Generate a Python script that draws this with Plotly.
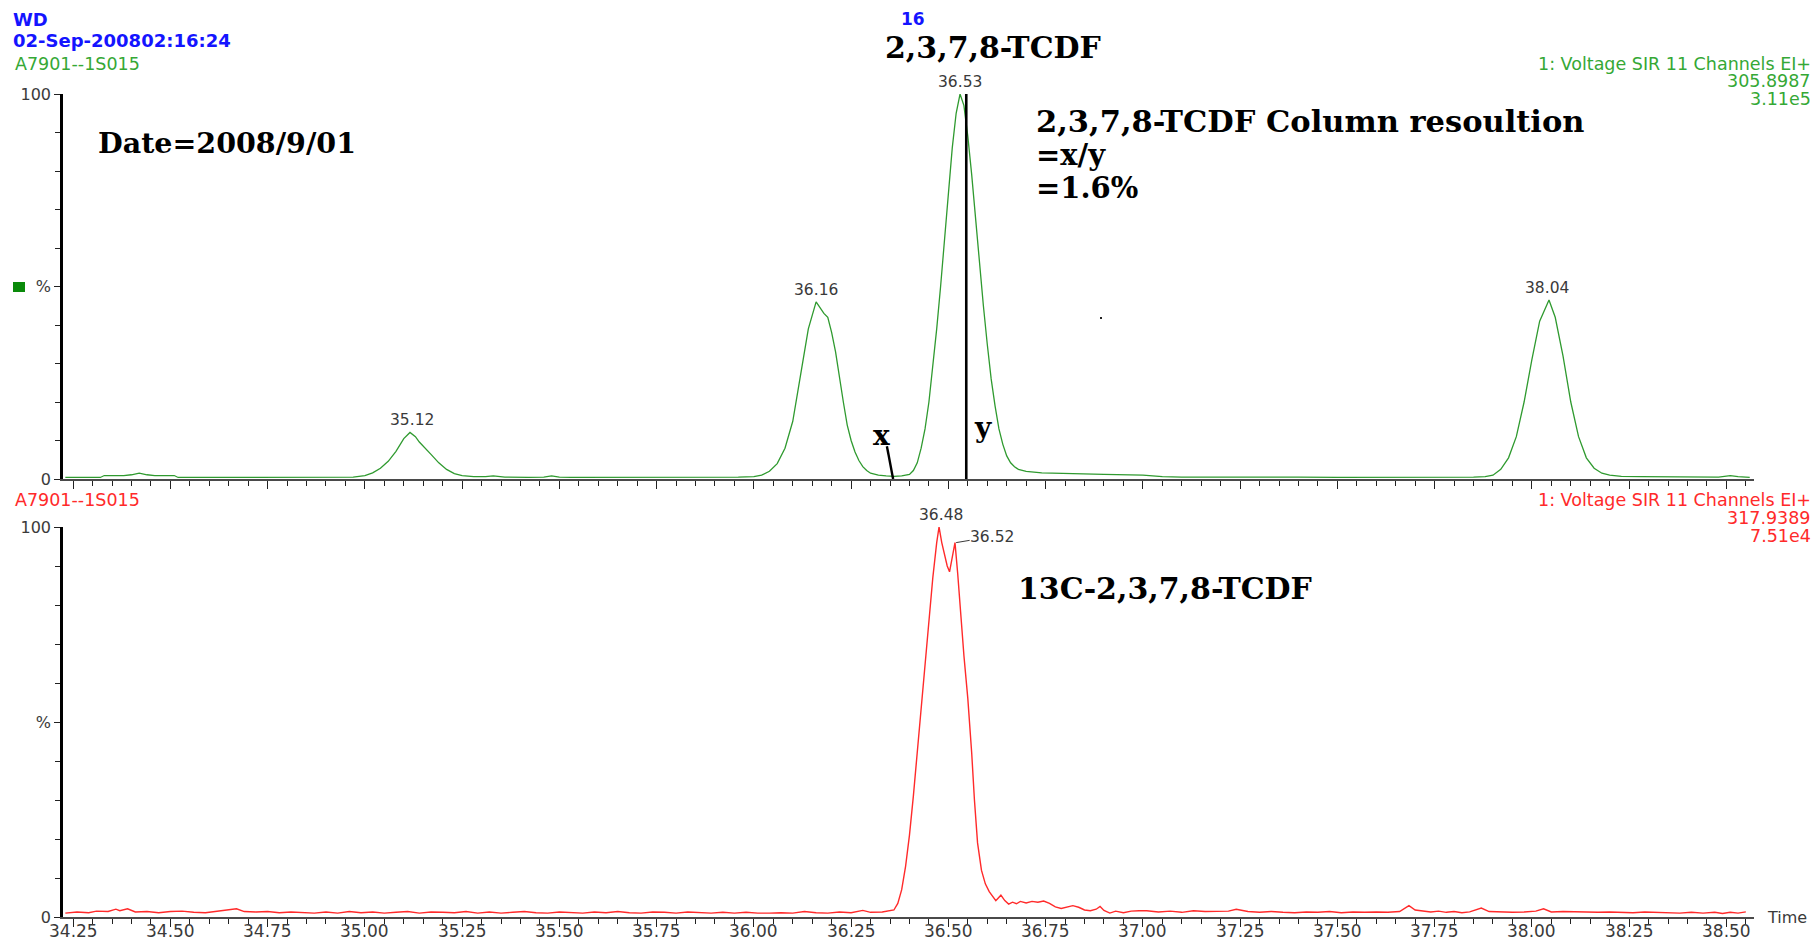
import plotly.graph_objects as go

# ---------------- data ----------------
# Top trace: 2,3,7,8-TCDF channel (m/z 305.8987), relative intensity %
green_time = [
    34.23, 34.27, 34.30, 34.32, 34.33, 34.36, 34.38, 34.40, 34.42, 34.44, 34.46, 34.49, 34.51, 34.52, 34.58, 34.65, 34.72, 34.80, 34.88, 34.94, 34.97,
    35.00, 35.02, 35.04, 35.06, 35.08, 35.10, 35.116, 35.13, 35.14, 35.15, 35.17, 35.19, 35.21, 35.23, 35.25, 35.28,
    35.31, 35.33, 35.36, 35.42, 35.46, 35.48, 35.50, 35.53, 35.60, 35.70, 35.80, 35.90, 35.96,
    36.00, 36.02, 36.04, 36.06, 36.08, 36.10, 36.12, 36.14, 36.16, 36.17, 36.18, 36.19, 36.20, 36.21, 36.22, 36.23, 36.24, 36.25,
    36.26, 36.27, 36.28, 36.29, 36.30, 36.32, 36.34, 36.36, 36.38, 36.40, 36.41,
    36.42, 36.43, 36.44, 36.45, 36.46, 36.47, 36.48, 36.49, 36.50, 36.51, 36.52, 36.53, 36.54, 36.55, 36.56, 36.57, 36.58, 36.59, 36.60, 36.61, 36.62, 36.63, 36.64, 36.65, 36.66, 36.67, 36.68, 36.70,
    36.74, 36.80, 36.90, 37.00, 37.05, 37.10, 37.20, 37.30, 37.40, 37.50, 37.60, 37.70, 37.80, 37.85,
    37.88, 37.90, 37.92, 37.94, 37.96, 37.98, 38.00, 38.02, 38.044, 38.06, 38.08, 38.10, 38.12, 38.14, 38.16, 38.18, 38.20,
    38.23, 38.28, 38.35, 38.42, 38.48, 38.51, 38.53, 38.56,
]
green_pct = [
    0.4, 0.4, 0.4, 0.4, 0.9, 0.9, 0.9, 1.1, 1.5, 1.1, 0.9, 0.9, 0.9, 0.4, 0.4, 0.4, 0.4, 0.4, 0.4, 0.4, 0.5,
    0.9, 1.6, 2.8, 4.6, 7.2, 10.5, 12.1, 11.0, 9.6, 8.6, 6.4, 4.2, 2.5, 1.4, 0.9, 0.6,
    0.6, 0.8, 0.5, 0.4, 0.5, 0.8, 0.5, 0.4, 0.4, 0.4, 0.4, 0.5, 0.5,
    0.6, 1.0, 2.0, 4.0, 8.0, 15.0, 27.0, 39.0, 46.0, 44.5, 43.0, 42.0, 38.0, 33.0, 26.0, 20.0, 14.0, 10.0,
    7.0, 4.8, 3.2, 2.2, 1.5, 1.0, 0.8, 0.7, 0.8, 1.2, 2.2,
    4.2, 8.0, 13.0, 20.0, 29.0, 39.0, 50.0, 62.0, 74.0, 86.0, 95.0, 100.0, 97.0, 89.0, 79.0, 67.0, 56.0, 45.0, 35.0, 26.0, 19.0, 13.0, 9.0, 6.0, 4.2, 3.2, 2.5, 2.0,
    1.6, 1.4, 1.2, 1.0, 0.6, 0.5, 0.5, 0.6, 0.5, 0.4, 0.4, 0.4, 0.4, 0.5,
    0.6, 1.0, 2.5, 5.5, 11.0, 20.0, 31.0, 41.0, 46.5, 42.0, 32.0, 20.0, 11.0, 5.5, 2.8, 1.5, 1.0,
    0.7, 0.6, 0.6, 0.5, 0.5, 0.9, 0.6, 0.4,
]

# Bottom trace: 13C-2,3,7,8-TCDF channel (m/z 317.9389), relative intensity %
red_time = [
    34.23, 34.26, 34.29, 34.31, 34.34, 34.36, 34.37, 34.39, 34.41, 34.44,
    34.47, 34.50, 34.53, 34.56, 34.59, 34.62, 34.65, 34.67, 34.69, 34.72,
    34.75, 34.78, 34.81, 34.84, 34.87, 34.90, 34.93, 34.96, 34.99, 35.02,
    35.05, 35.08, 35.11, 35.14, 35.17, 35.20, 35.23, 35.26, 35.29, 35.32,
    35.35, 35.38, 35.41, 35.44, 35.47, 35.50, 35.53, 35.56, 35.59, 35.62,
    35.65, 35.68, 35.71, 35.74, 35.77, 35.80, 35.83, 35.86, 35.89, 35.92,
    35.95, 35.98, 36.01, 36.04, 36.07, 36.10, 36.13, 36.16, 36.19, 36.22,
    36.25, 36.28, 36.30, 36.33, 36.35,
    36.36, 36.37, 36.38, 36.39, 36.40, 36.41, 36.42, 36.43, 36.44, 36.45,
    36.46, 36.47, 36.476, 36.483, 36.49, 36.497, 36.503, 36.51, 36.517, 36.524,
    36.53, 36.54, 36.55, 36.555, 36.56, 36.567, 36.575, 36.585, 36.595, 36.605,
    36.615, 36.622, 36.635, 36.645, 36.655, 36.665, 36.675, 36.685, 36.70, 36.715,
    36.73, 36.745, 36.76, 36.775, 36.79, 36.805, 36.82, 36.835, 36.85, 36.865,
    36.88, 36.89, 36.90, 36.915, 36.93, 36.95, 36.97, 36.99, 37.01, 37.04,
    37.07, 37.10, 37.13, 37.16, 37.19, 37.22, 37.24, 37.27, 37.30, 37.33,
    37.36, 37.39, 37.42, 37.45, 37.48, 37.51, 37.54, 37.57, 37.60, 37.63,
    37.66, 37.684, 37.70, 37.72, 37.74, 37.76, 37.78, 37.80, 37.82, 37.84,
    37.87, 37.89, 37.92, 37.95, 37.98, 38.01, 38.03, 38.05, 38.08, 38.11,
    38.14, 38.17, 38.20, 38.23, 38.26, 38.29, 38.32, 38.35, 38.38, 38.41,
    38.44, 38.47, 38.49, 38.51, 38.53, 38.55,
]
red_pct = [
    1.0, 1.3, 1.1, 1.5, 1.4, 2.0, 1.6, 2.1, 1.3, 1.4,
    1.1, 1.4, 1.5, 1.2, 1.1, 1.5, 1.8, 2.1, 1.4, 1.3,
    1.4, 1.1, 1.3, 1.1, 1.0, 1.3, 1.0, 1.4, 1.1, 1.3,
    1.0, 1.2, 1.4, 1.0, 1.3, 1.2, 1.1, 1.4, 1.0, 1.3,
    1.0, 1.2, 1.4, 1.1, 1.0, 1.3, 1.2, 1.0, 1.3, 1.1,
    1.4, 1.1, 1.0, 1.3, 1.2, 1.0, 1.3, 1.1, 1.0, 1.2,
    1.0, 1.2, 1.0, 1.0, 1.1, 1.0, 1.4, 1.1, 1.0, 1.3,
    1.1, 1.7, 1.2, 1.3, 1.6,
    1.8, 3.5, 7.0, 13.0, 21.0, 31.0, 42.0, 54.0, 66.0, 77.0,
    87.0, 96.0, 100.0, 96.0, 93.0, 90.0, 88.5, 92.0, 96.0, 88.0,
    80.0, 67.0, 56.0, 50.0, 42.0, 30.0, 19.0, 12.0, 8.5, 6.5,
    5.0, 4.2, 5.6, 4.2, 3.3, 3.8, 3.4, 4.0, 3.6, 4.0,
    3.8, 4.1, 3.5, 2.6, 2.2, 2.5, 2.9, 2.5, 1.8, 1.6,
    2.0, 2.7, 1.7, 1.0, 1.5, 1.1, 1.5, 1.6, 1.6, 1.3,
    1.5, 1.2, 1.6, 1.4, 1.5, 1.5, 2.0, 1.4, 1.2, 1.4,
    1.2, 1.1, 1.3, 1.2, 1.4, 1.1, 1.3, 1.2, 1.3, 1.2,
    1.4, 2.9, 1.8, 1.6, 1.3, 1.5, 1.2, 1.4, 1.1, 1.3,
    2.3, 1.4, 1.3, 1.2, 1.3, 1.5, 2.1, 1.3, 1.4, 1.3,
    1.3, 1.2, 1.3, 1.2, 1.1, 1.3, 1.2, 1.1, 1.0, 1.2,
    1.0, 1.2, 0.9, 1.2, 1.0, 1.3,
]

# labelled peak apexes (retention time, % height)
top_peak_time = [35.12, 36.16, 36.53, 38.04]
top_peak_pct = [12.1, 46.0, 100.0, 46.5]
bottom_peak_time = [36.48, 36.52]
bottom_peak_pct = [100.0, 96.0]

# resolution construction: valley x (time, %) and apex y
valley_line_time = [36.342, 36.358]
valley_line_pct = [8.5, 0.0]
apex_line_time = 36.546

x_tick_labels = ["34.25", "34.50", "34.75", "35.00", "35.25", "35.50", "35.75", "36.00",
                 "36.25", "36.50", "36.75", "37.00", "37.25", "37.50", "37.75", "38.00",
                 "38.25", "38.50"]
y_tick_values = [0, 50, 100]
y_tick_labels = ["0", "%", "100"]

# ---------------- layout helpers ----------------
W, H = 1818, 943
L, R, T, B = 63, 64, 94, 26
PW, PH = W - L - R, H - T - B

def px(x):
    return (x - L) / PW

def py(y):
    return (H - B - y) / PH

SANS = "DejaVu Sans"
SERIF = "DejaVu Serif"
GREEN_LINE = "#2f9a2f"
GREEN_TEXT = "#35a835"
RED = "#ff2a2a"
BLUE = "#1414ff"
GRAY = "#3a3a3a"

top_domain = [py(479), 1.0]
bottom_domain = [0.0, py(527)]
xrange_ = [34.224, 38.571]
x_tick_values = [float(v) for v in x_tick_labels]

fig = go.Figure()
fig.add_trace(go.Scatter(x=green_time, y=green_pct, mode="lines",
                         line=dict(color=GREEN_LINE, width=1.3),
                         xaxis="x", yaxis="y", hoverinfo="skip", showlegend=False))
fig.add_trace(go.Scatter(x=red_time, y=red_pct, mode="lines",
                         line=dict(color=RED, width=1.4),
                         xaxis="x2", yaxis="y2", hoverinfo="skip", showlegend=False))

x_common = dict(range=xrange_, showline=True, linecolor="#4a4a4a", linewidth=2,
                ticks="outside", tickvals=x_tick_values, ticktext=x_tick_labels,
                ticklen=8, tickwidth=1.3, tickcolor="#222", showticklabels=False,
                minor=dict(ticks="outside", dtick=0.05, tick0=34.25, ticklen=5,
                           tickwidth=1, tickcolor="#222"),
                showgrid=False, zeroline=False, automargin=False, fixedrange=True)
y_common = dict(range=[0, 100], showline=True, linecolor="black", linewidth=2.5,
                ticks="outside", tickvals=y_tick_values, ticktext=y_tick_labels,
                ticklen=6, tickwidth=1.3, tickcolor="#222",
                tickfont=dict(family=SANS, size=16, color=GRAY),
                minor=dict(ticks="outside", dtick=10, ticklen=5, tickwidth=1, tickcolor="#222"),
                showgrid=False, zeroline=False, automargin=False, fixedrange=True)

fig.update_layout(
    width=W, height=H, template="none",
    margin=dict(l=L, r=R, t=T, b=B),
    paper_bgcolor="white", plot_bgcolor="white",
    xaxis=dict(domain=[0, 1], anchor="y", **x_common),
    xaxis2=dict(domain=[0, 1], anchor="y2", **x_common),
    yaxis=dict(domain=top_domain, anchor="x", **y_common),
    yaxis2=dict(domain=bottom_domain, anchor="x2", **y_common),
)

def note(text, x, y, xanchor="left", size=17, color=GRAY, family=SANS, bold=False, yanchor="middle"):
    fig.add_annotation(text=f"<b>{text}</b>" if bold else text, xref="paper", yref="paper",
                       x=px(x), y=py(y), xanchor=xanchor, yanchor=yanchor, showarrow=False,
                       borderpad=0, font=dict(family=family, size=size, color=color))

# time-axis labels of the lower panel, placed on the x2 scale just under its ticks
for v, lab in zip(x_tick_values, x_tick_labels):
    fig.add_annotation(text=lab, x=v, xref="x2", y=py(931), yref="paper", showarrow=False,
                       xanchor="center", yanchor="middle", borderpad=0,
                       font=dict(family=SANS, size=17, color=GRAY))

# header texts
note("WD", 12, 19, size=18, color=BLUE, bold=True)
note("02-Sep-200802:16:24", 12, 41, size=18, color=BLUE, bold=True)
note("16", 913, 19, xanchor="center", size=17, color=BLUE, bold=True)
note("A7901--1S015", 14, 64, size=17.5, color=GREEN_TEXT)
note("1: Voltage SIR 11 Channels EI+", 1812, 64, xanchor="right", size=17.5, color=GREEN_TEXT)
note("305.8987", 1812, 81.5, xanchor="right", size=17.5, color=GREEN_TEXT)
note("3.11e5", 1812, 99, xanchor="right", size=17.5, color=GREEN_TEXT)
note("A7901--1S015", 14, 500, size=17.5, color=RED)
note("1: Voltage SIR 11 Channels EI+", 1812, 500, xanchor="right", size=17.5, color=RED)
note("317.9389", 1812, 518, xanchor="right", size=17.5, color=RED)
note("7.51e4", 1812, 536, xanchor="right", size=17.5, color=RED)
note("Time", 1766, 917, size=16, color=GRAY)

# serif commentary
note("2,3,7,8-TCDF", 993, 47.5, xanchor="center", size=30, color="black", family=SERIF, bold=True)
note("Date=2008/9/01", 97, 143.5, size=28.5, color="black", family=SERIF, bold=True)
note("2,3,7,8-TCDF Column resoultion", 1035, 121, size=30.5, color="black", family=SERIF, bold=True)
note("=x/y", 1035, 155.5, size=29, color="black", family=SERIF, bold=True)
note("=1.6%", 1035, 188, size=29, color="black", family=SERIF, bold=True)
note("13C-2,3,7,8-TCDF", 1017, 588, size=30, color="black", family=SERIF, bold=True)
note("x", 881, 436, xanchor="center", size=28, color="black", family=SERIF, bold=True)
note("y", 983, 427, xanchor="center", size=28, color="black", family=SERIF, bold=True)

# peak labels
for t, h in zip(top_peak_time, top_peak_pct):
    fig.add_annotation(text=f"{t:.2f}", x=t, y=h, xref="x", yref="y", showarrow=False,
                       xanchor="center", yanchor="bottom", yshift=2, borderpad=0,
                       font=dict(family=SANS, size=15.5, color=GRAY))
fig.add_annotation(text=f"{bottom_peak_time[0]:.2f}", x=bottom_peak_time[0], y=bottom_peak_pct[0],
                   xref="x2", yref="y2", showarrow=False, xanchor="center", yanchor="bottom",
                   yshift=2, borderpad=0, font=dict(family=SANS, size=15.5, color=GRAY))
fig.add_annotation(text=f"{bottom_peak_time[1]:.2f}", x=bottom_peak_time[1], y=bottom_peak_pct[1],
                   xref="x2", yref="y2", showarrow=True, arrowhead=0, arrowwidth=1,
                   arrowcolor=GRAY, ax=36, ay=-6, standoff=0, borderpad=0,
                   xanchor="center", yanchor="middle",
                   font=dict(family=SANS, size=15.5, color=GRAY))

# resolution construction lines
fig.add_shape(type="line", xref="x", yref="y", x0=apex_line_time, x1=apex_line_time, y0=0, y1=100,
              line=dict(color="black", width=2.6))
fig.add_shape(type="line", xref="x", yref="y", x0=valley_line_time[0], x1=valley_line_time[1],
              y0=valley_line_pct[0], y1=valley_line_pct[1], line=dict(color="black", width=2.4))

# small decorations
fig.add_shape(type="rect", xref="paper", yref="paper", x0=px(13), x1=px(25), y0=py(292), y1=py(282),
              line=dict(width=0), fillcolor="#0a8a0a")
fig.add_shape(type="rect", xref="paper", yref="paper", x0=px(1100), x1=px(1102), y0=py(319), y1=py(317),
              line=dict(width=0), fillcolor="#222")

fig.write_html("out.html", config={"displayModeBar": False},
               post_script="document.body.style.margin='0';")
